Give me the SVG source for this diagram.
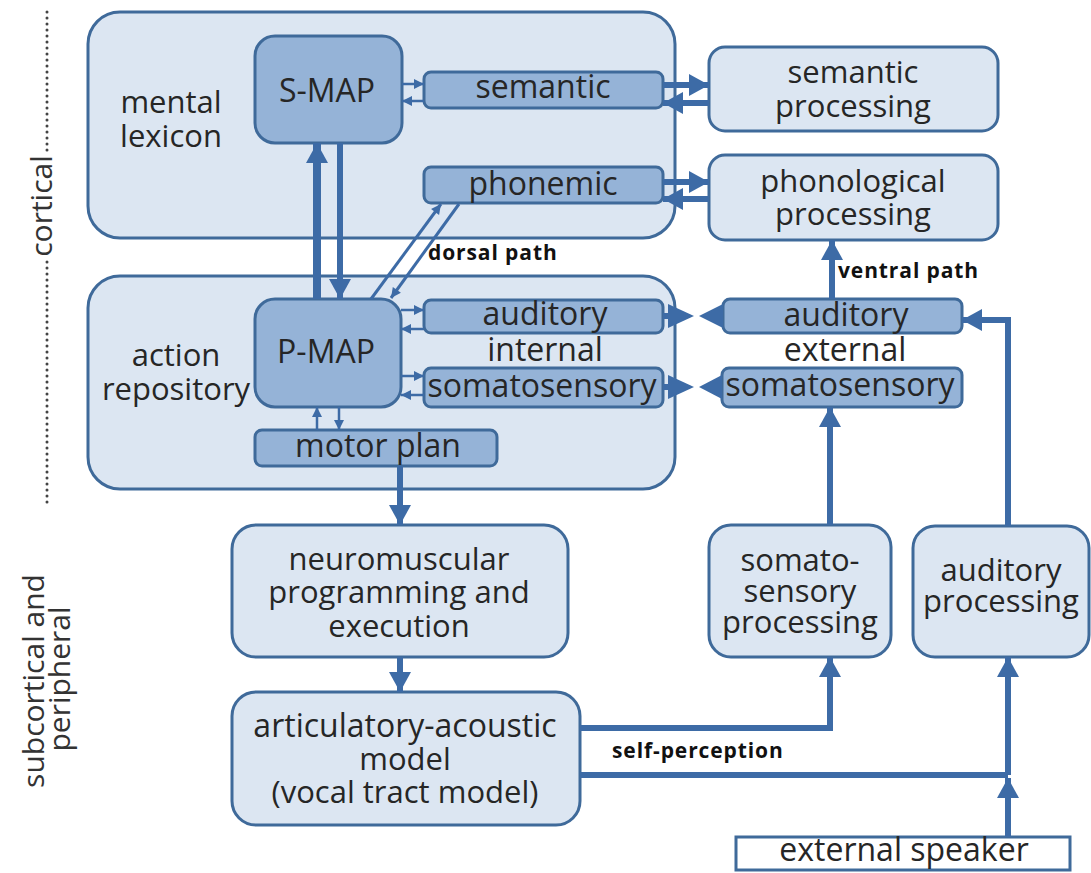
<svg xmlns="http://www.w3.org/2000/svg" width="1091" height="873" viewBox="0 0 1091 873">
<style>
.outer{fill:#dce6f2;stroke:#3f6a9a;stroke-width:3}
.inner{fill:#95b3d7;stroke:#3f6a9a;stroke-width:3}
.ext{fill:#ffffff;stroke:#3f6a9a;stroke-width:3}
text{font-family:"Open Sans","DejaVu Sans",sans-serif;fill:#262626}
.t{font-size:32px;text-anchor:middle}
.m{font-size:31px;text-anchor:middle}
.lbl{font-size:21px;font-weight:bold;fill:#111;letter-spacing:0.9px}
.side{font-size:30px;text-anchor:middle;fill:#333}
.thick{stroke:#3d6ba6;stroke-width:6;fill:none}
.thin{stroke:#3d6ba6;stroke-width:2.5;fill:none}
.head{fill:#3d6ba6}
.dots{stroke:#444;stroke-width:3;stroke-dasharray:0 6;stroke-linecap:round;fill:none}
</style>
<defs>
<marker id="big" markerUnits="userSpaceOnUse" markerWidth="24" markerHeight="24" viewBox="0 0 24 24" refX="22" refY="12" orient="auto">
<path d="M2,1 L22,12 L2,23 Z" fill="#3d6ba6"/>
</marker>
<marker id="sm" markerUnits="userSpaceOnUse" markerWidth="12" markerHeight="12" viewBox="0 0 12 12" refX="11" refY="6" orient="auto">
<path d="M1,1 L11,6 L1,11 Z" fill="#3d6ba6"/>
</marker>
</defs>

<g id="side-labels">
<line class="dots" x1="47" y1="12" x2="47" y2="152"/>
<line class="dots" x1="47" y1="262" x2="47" y2="505"/>
<text class="side" transform="translate(52,206) rotate(-90)">cortical</text>
<text class="side" transform="translate(44,681) rotate(-90)">subcortical and</text>
<text class="side" transform="translate(70,679) rotate(-90)">peripheral</text>
</g>

<g id="mental-lexicon">
<rect class="outer" x="88" y="12" width="587" height="226" rx="32"/>
<text class="m" x="171" y="113">mental</text>
<text class="m" x="171" y="147">lexicon</text>
</g>
<g id="action-repository">
<rect class="outer" x="88" y="276" width="587" height="213" rx="32"/>
<text class="m" x="176" y="366">action</text>
<text class="m" x="176" y="400">repository</text>
</g>

<g id="s-map">
<rect class="inner" x="255" y="36" width="147" height="107" rx="20"/>
<text class="t" x="327" y="102">S-MAP</text>
</g>
<g id="semantic">
<rect class="inner" x="424" y="72" width="239" height="36" rx="7"/>
<text class="t" x="543" y="98">semantic</text>
</g>
<g id="phonemic">
<rect class="inner" x="424" y="167" width="239" height="36" rx="7"/>
<text class="t" x="543" y="195">phonemic</text>
</g>
<g id="semantic-processing">
<rect class="outer" x="709" y="47" width="289" height="84" rx="16"/>
<text class="m" x="853" y="83">semantic</text>
<text class="m" x="853" y="117">processing</text>
</g>
<g id="phonological-processing">
<rect class="outer" x="709" y="155" width="289" height="85" rx="16"/>
<text class="m" x="853" y="192">phonological</text>
<text class="m" x="853" y="225">processing</text>
</g>

<g id="p-map">
<rect class="inner" x="255" y="299" width="146" height="108" rx="20"/>
<text class="t" x="326" y="363">P-MAP</text>
</g>
<g id="auditory-internal">
<rect class="inner" x="424" y="300" width="239" height="33" rx="7"/>
<text class="t" x="545" y="325">auditory</text>
</g>
<g id="internal-label">
<text class="t" x="545" y="361">internal</text>
</g>
<g id="somatosensory-internal">
<rect class="inner" x="424" y="368" width="239" height="39" rx="7"/>
<text class="t" x="542" y="397">somatosensory</text>
</g>
<g id="motor-plan">
<rect class="inner" x="255" y="430" width="242" height="36" rx="7"/>
<text class="t" x="378" y="457">motor plan</text>
</g>

<g id="auditory-external">
<rect class="inner" x="723" y="299" width="239" height="34" rx="7"/>
<text class="t" x="846" y="326">auditory</text>
</g>
<g id="external-label">
<text class="t" x="845" y="361">external</text>
</g>
<g id="somatosensory-external">
<rect class="inner" x="722" y="368" width="240" height="39" rx="7"/>
<text class="t" x="840" y="396">somatosensory</text>
</g>

<g id="neuromuscular">
<rect class="outer" x="232" y="525" width="336" height="132" rx="24"/>
<text class="m" x="399" y="570">neuromuscular</text>
<text class="m" x="399" y="603">programming and</text>
<text class="m" x="399" y="637">execution</text>
</g>
<g id="articulatory">
<rect class="outer" x="232" y="692" width="348" height="133" rx="24"/>
<text class="m" x="405" y="737" style="font-size:32px">articulatory-acoustic</text>
<text class="m" x="405" y="770">model</text>
<text class="m" x="405" y="803">(vocal tract model)</text>
</g>
<g id="somato-processing">
<rect class="outer" x="709" y="525" width="182" height="132" rx="22"/>
<text class="m" x="800" y="571">somato-</text>
<text class="m" x="800" y="602">sensory</text>
<text class="m" x="800" y="633">processing</text>
</g>
<g id="auditory-processing">
<rect class="outer" x="913" y="526" width="176" height="131" rx="22"/>
<text class="m" x="1001" y="581">auditory</text>
<text class="m" x="1001" y="612">processing</text>
</g>
<g id="external-speaker">
<rect class="ext" x="736" y="837" width="334" height="33"/>
<text class="t" x="904" y="861">external speaker</text>
</g>

<g id="connectors">
<!-- S-MAP <-> P-MAP -->
<line class="thick" style="stroke-width:8" x1="317" y1="299" x2="317" y2="143" marker-end="url(#big)"/>
<line class="thick" x1="340" y1="143" x2="340" y2="299" marker-end="url(#big)"/>
<!-- small arrows S-MAP / semantic -->
<line class="thin" x1="402" y1="84" x2="424" y2="84" marker-end="url(#sm)"/>
<line class="thin" x1="424" y1="101" x2="402" y2="101" marker-end="url(#sm)"/>
<!-- P-MAP / auditory -->
<line class="thin" x1="401" y1="310" x2="424" y2="310" marker-end="url(#sm)"/>
<line class="thin" x1="424" y1="329" x2="401" y2="329" marker-end="url(#sm)"/>
<!-- P-MAP / somatosensory -->
<line class="thin" x1="401" y1="376" x2="424" y2="376" marker-end="url(#sm)"/>
<line class="thin" x1="424" y1="395" x2="401" y2="395" marker-end="url(#sm)"/>
<!-- P-MAP / motor plan -->
<line class="thin" x1="317" y1="430" x2="317" y2="407" marker-end="url(#sm)"/>
<line class="thin" x1="339" y1="407" x2="339" y2="430" marker-end="url(#sm)"/>
<!-- dorsal path -->
<line class="thin" style="stroke-width:3" x1="371" y1="299" x2="441" y2="204" marker-end="url(#sm)"/>
<line class="thin" style="stroke-width:3" x1="459" y1="204" x2="391" y2="298" marker-end="url(#sm)"/>
<text class="lbl" x="428" y="260">dorsal path</text>
<!-- semantic <-> semantic processing -->
<line class="thick" x1="663" y1="85" x2="709" y2="85" marker-end="url(#big)"/>
<line class="thick" x1="709" y1="103" x2="663" y2="103" marker-end="url(#big)"/>
<!-- phonemic <-> phonological processing -->
<line class="thick" x1="663" y1="182" x2="709" y2="182" marker-end="url(#big)"/>
<line class="thick" x1="709" y1="199" x2="663" y2="199" marker-end="url(#big)"/>
<!-- internal <-> external (bowties) -->
<line class="thick" x1="663" y1="316" x2="672" y2="316"/>
<polygon class="head" points="668,304 694,316 668,328"/>
<polygon class="head" points="723,304 699,316 723,328"/>
<line class="thick" x1="663" y1="387" x2="672" y2="387"/>
<polygon class="head" points="668,375 694,387 668,399"/>
<polygon class="head" points="722,375 699,387 722,399"/>
<!-- ventral path -->
<line class="thick" x1="832" y1="299" x2="832" y2="240" marker-end="url(#big)"/>
<text class="lbl" x="838" y="278">ventral path</text>
<!-- somato processing -> external somatosensory -->
<line class="thick" x1="830" y1="525" x2="830" y2="407" marker-end="url(#big)"/>
<!-- auditory processing -> external auditory -->
<path class="thick" d="M1008,526 V320 H962" marker-end="url(#big)"/>
<!-- motor plan -> neuromuscular -> articulatory -->
<line class="thick" x1="400" y1="466" x2="400" y2="525" marker-end="url(#big)"/>
<line class="thick" x1="400" y1="657" x2="400" y2="692" marker-end="url(#big)"/>
<!-- self-perception -->
<path class="thick" d="M580,728 H830 V657" marker-end="url(#big)"/>
<path class="thick" d="M580,775 H1008"/>
<line class="thick" x1="1008" y1="775" x2="1008" y2="657" marker-end="url(#big)"/>
<line class="thick" x1="1008" y1="837" x2="1008" y2="778" marker-end="url(#big)"/>
<text class="lbl" x="612" y="758">self-perception</text>
</g>
</svg>
